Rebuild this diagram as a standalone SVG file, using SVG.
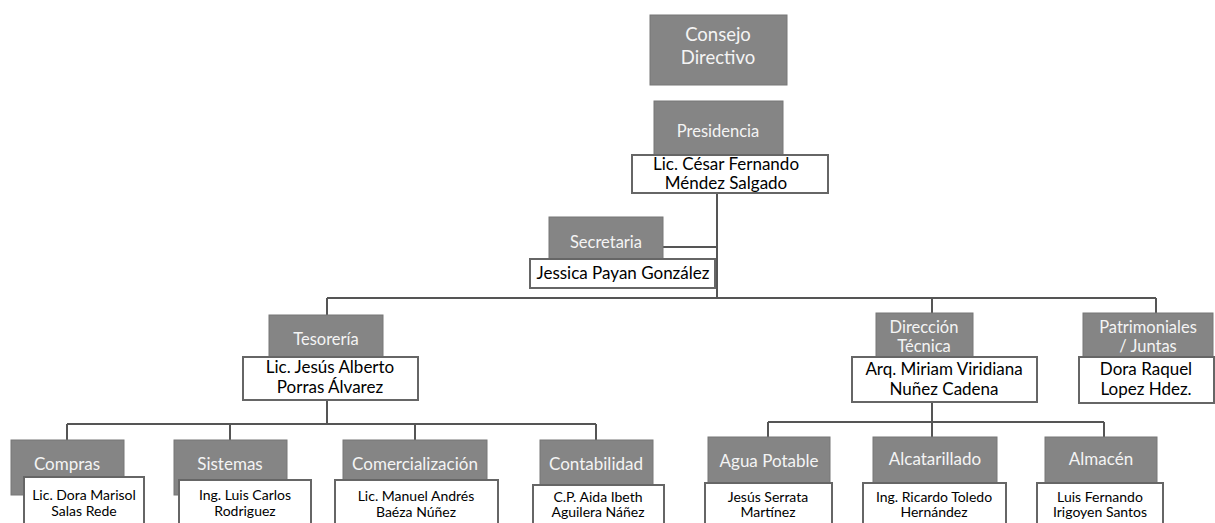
<svg xmlns="http://www.w3.org/2000/svg" width="1215" height="523" viewBox="0 0 1215 523">
<style>
.g{fill:#858585;stroke:#777;stroke-width:1}
.n{fill:#fff;stroke:#666;stroke-width:2}
.gt{font-family:Lato,"Liberation Sans",sans-serif;fill:#f4f4f4;text-anchor:middle}
.nt{font-family:Lato,"Liberation Sans",sans-serif;fill:#000;text-anchor:middle}
.c{stroke:#555;stroke-width:2;fill:none}
.s1{font-size:16.5px}
.s2{font-size:17px}
.s3{font-size:17px}
.s4{font-size:14px}
</style>
<rect width="1215" height="523" fill="#fff"/>
<g id="connectors">
<path class="c" d="M717 193V298M663 247H717M327 298H1156M327 298V315M932 298V313M1156 298V313M327 400V424M67 424H596M67 424V440M230 424V440M415 424V440M596 424V440M932 403V422M768 422H1104M768 422V437M932 422V437M1104 422V437"/>
</g>
<g id="consejo">
<rect class="g" x="650" y="15" width="137" height="70"/>
<text class="gt" x="718" y="41" font-size="18.5">Consejo</text>
<text class="gt" x="718" y="64" font-size="18.5">Directivo</text>
</g>
<g id="presidencia">
<rect class="g" x="654" y="101" width="129" height="54"/>
<text class="gt s1" x="718" y="137">Presidencia</text>
<rect class="n" x="632" y="155" width="196" height="38"/>
<text class="nt s2" x="726" y="170">Lic. César Fernando</text>
<text class="nt s2" x="726" y="189">Méndez Salgado</text>
</g>
<g id="secretaria">
<rect class="g" x="549" y="217" width="114" height="42"/>
<text class="gt s1" x="606" y="248">Secretaria</text>
<rect class="n" x="530" y="259" width="185" height="29"/>
<text class="nt" x="623" y="279" font-size="17">Jessica Payan González</text>
</g>
<g id="tesoreria">
<rect class="g" x="269" y="315" width="114" height="42"/>
<text class="gt s1" x="326" y="345">Tesorería</text>
<rect class="n" x="243" y="357" width="175" height="43"/>
<text class="nt s2" x="330" y="373">Lic. Jesús Alberto</text>
<text class="nt s2" x="330" y="393">Porras Álvarez</text>
</g>
<g id="direccion">
<rect class="g" x="876" y="313" width="97" height="44"/>
<text class="gt s1" x="924" y="333">Dirección</text>
<text class="gt s1" x="924" y="352">Técnica</text>
<rect class="n" x="852" y="357" width="185" height="45"/>
<text class="nt s2" x="944" y="375">Arq. Miriam Viridiana</text>
<text class="nt s2" x="944" y="395">Nuñez Cadena</text>
</g>
<g id="patrimoniales">
<rect class="g" x="1083" y="313" width="130" height="44"/>
<text class="gt s1" x="1148" y="333">Patrimoniales</text>
<text class="gt s1" x="1148" y="352">/ Juntas</text>
<rect class="n" x="1079" y="357" width="135" height="46"/>
<text class="nt s2" x="1146" y="375">Dora Raquel</text>
<text class="nt s2" x="1146" y="395">Lopez Hdez.</text>
</g>
<g id="compras">
<rect class="g" x="11" y="440" width="113" height="55"/>
<text class="gt s3" x="67" y="470">Compras</text>
<rect class="n" x="24" y="477" width="120" height="50"/>
<text class="nt s4" x="84" y="500">Lic. Dora Marisol</text>
<text class="nt s4" x="84" y="516">Salas Rede</text>
</g>
<g id="sistemas">
<rect class="g" x="174" y="440" width="113" height="55"/>
<text class="gt s3" x="230" y="470">Sistemas</text>
<rect class="n" x="179" y="480" width="132" height="47"/>
<text class="nt s4" x="245" y="500">Ing. Luis Carlos</text>
<text class="nt s4" x="245" y="516">Rodriguez</text>
</g>
<g id="comercializacion">
<rect class="g" x="343" y="440" width="144" height="46"/>
<text class="gt s3" x="415" y="470">Comercialización</text>
<rect class="n" x="335" y="480" width="163" height="47"/>
<text class="nt s4" x="416" y="501">Lic. Manuel Andrés</text>
<text class="nt s4" x="416" y="517">Baéza Núñez</text>
</g>
<g id="contabilidad">
<rect class="g" x="540" y="440" width="113" height="46"/>
<text class="gt s3" x="596" y="470">Contabilidad</text>
<rect class="n" x="533" y="485" width="131" height="42"/>
<text class="nt s4" x="598" y="502">C.P. Aida Ibeth</text>
<text class="nt s4" x="598" y="517">Aguilera Náñez</text>
</g>
<g id="agua">
<rect class="g" x="708" y="437" width="122" height="46"/>
<text class="gt s3" x="769" y="467">Agua Potable</text>
<rect class="n" x="705" y="483" width="127" height="44"/>
<text class="nt s4" x="768" y="502">Jesús Serrata</text>
<text class="nt s4" x="768" y="517">Martínez</text>
</g>
<g id="alcantarillado">
<rect class="g" x="873" y="437" width="124" height="46"/>
<text class="gt s3" x="935" y="465">Alcatarillado</text>
<rect class="n" x="863" y="483" width="143" height="44"/>
<text class="nt s4" x="934" y="502">Ing. Ricardo Toledo</text>
<text class="nt s4" x="934" y="517">Hernández</text>
</g>
<g id="almacen">
<rect class="g" x="1045" y="437" width="112" height="46"/>
<text class="gt s3" x="1101" y="465">Almacén</text>
<rect class="n" x="1037" y="483" width="126" height="44"/>
<text class="nt s4" x="1100" y="502">Luis Fernando</text>
<text class="nt s4" x="1100" y="517">Irigoyen Santos</text>
</g>
</svg>
